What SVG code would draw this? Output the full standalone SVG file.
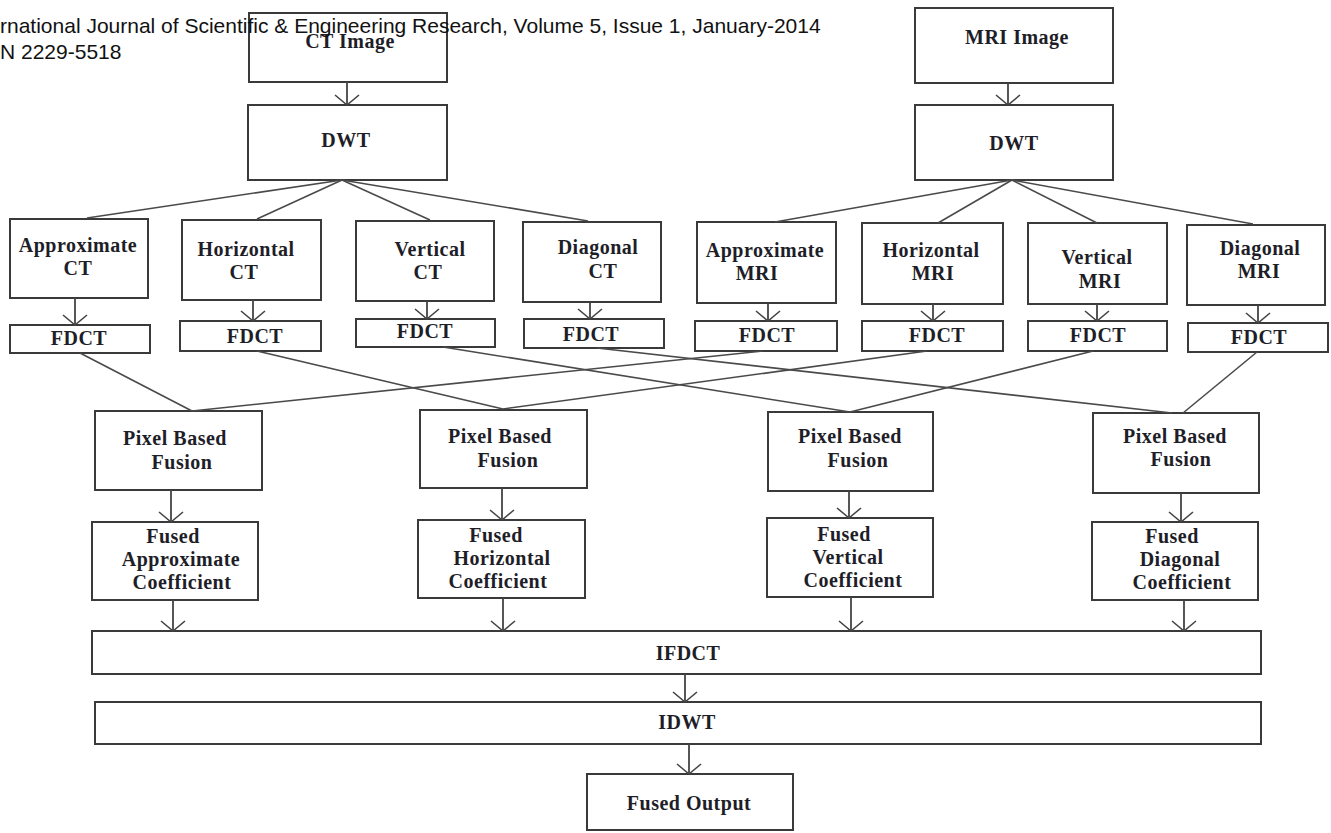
<svg xmlns="http://www.w3.org/2000/svg" width="1331" height="833" viewBox="0 0 1331 833">
<style>
.box{fill:#fff;stroke:#3a3a3a;stroke-width:2}
.lbl{font-family:"Liberation Serif","Times New Roman",serif;font-weight:bold;font-size:20px;letter-spacing:0.5px;fill:#1e1e28;text-anchor:middle}
.hdr{font-family:"Liberation Sans",Arial,sans-serif;font-size:21px;fill:#111}
.con line{stroke:#4a4a4a;stroke-width:1.6;fill:none}
.arr line{stroke:#444;stroke-width:1.8;marker-end:url(#v)}
</style>
<defs>
<marker id="v" markerUnits="userSpaceOnUse" viewBox="-12 -13 14 26" refX="0" refY="0" markerWidth="14" markerHeight="26" orient="auto">
<path d="M-10,-12 L0,0 L-10,12" fill="none" stroke="#444" stroke-width="1.6"/>
</marker>
</defs>
<rect width="1331" height="833" fill="#fff"/>

<g id="ct-image"><rect class="box" x="249" y="13" width="198" height="69"/><text class="lbl" x="350" y="48">CT Image</text></g>
<g id="ct-dwt"><rect class="box" x="248" y="105" width="199" height="75"/><text class="lbl" x="346" y="147">DWT</text></g>
<g id="mri-image"><rect class="box" x="915" y="8" width="198" height="75"/><text class="lbl" x="1017" y="44">MRI Image</text></g>
<g id="mri-dwt"><rect class="box" x="915" y="105" width="198" height="75"/><text class="lbl" x="1014" y="150">DWT</text></g>

<g id="approx-ct"><rect class="box" x="10" y="219" width="138" height="79"/><text class="lbl" x="78" y="252">Approximate</text><text class="lbl" x="78" y="275">CT</text></g>
<g id="horiz-ct"><rect class="box" x="182" y="220" width="139" height="80"/><text class="lbl" x="246" y="256">Horizontal</text><text class="lbl" x="244" y="279">CT</text></g>
<g id="vert-ct"><rect class="box" x="356" y="221" width="138" height="80"/><text class="lbl" x="430" y="256">Vertical</text><text class="lbl" x="428" y="279">CT</text></g>
<g id="diag-ct"><rect class="box" x="523" y="222" width="138" height="80"/><text class="lbl" x="598" y="254">Diagonal</text><text class="lbl" x="603" y="278">CT</text></g>
<g id="approx-mri"><rect class="box" x="697" y="222" width="139" height="81"/><text class="lbl" x="765" y="257">Approximate</text><text class="lbl" x="757" y="280">MRI</text></g>
<g id="horiz-mri"><rect class="box" x="862" y="223" width="141" height="81"/><text class="lbl" x="931" y="257">Horizontal</text><text class="lbl" x="933" y="280">MRI</text></g>
<g id="vert-mri"><rect class="box" x="1028" y="223" width="139" height="81"/><text class="lbl" x="1097" y="264">Vertical</text><text class="lbl" x="1100" y="288">MRI</text></g>
<g id="diag-mri"><rect class="box" x="1187" y="225" width="138" height="80"/><text class="lbl" x="1260" y="255">Diagonal</text><text class="lbl" x="1259" y="278">MRI</text></g>

<g id="fdct-1"><rect class="box" x="10" y="325" width="140" height="28"/><text class="lbl" x="79" y="345">FDCT</text></g>
<g id="fdct-2"><rect class="box" x="180" y="321" width="141" height="30"/><text class="lbl" x="255" y="343">FDCT</text></g>
<g id="fdct-3"><rect class="box" x="356" y="319" width="139" height="28"/><text class="lbl" x="425" y="338">FDCT</text></g>
<g id="fdct-4"><rect class="box" x="524" y="319" width="140" height="29"/><text class="lbl" x="591" y="341">FDCT</text></g>
<g id="fdct-5"><rect class="box" x="695" y="321" width="142" height="30"/><text class="lbl" x="767" y="342">FDCT</text></g>
<g id="fdct-6"><rect class="box" x="862" y="321" width="141" height="30"/><text class="lbl" x="937" y="342">FDCT</text></g>
<g id="fdct-7"><rect class="box" x="1028" y="321" width="139" height="30"/><text class="lbl" x="1098" y="342">FDCT</text></g>
<g id="fdct-8"><rect class="box" x="1188" y="323" width="140" height="29"/><text class="lbl" x="1259" y="344">FDCT</text></g>

<g id="pbf-1"><rect class="box" x="95" y="411" width="167" height="79"/><text class="lbl" x="175" y="445">Pixel Based</text><text class="lbl" x="182" y="469">Fusion</text></g>
<g id="pbf-2"><rect class="box" x="420" y="410" width="167" height="78"/><text class="lbl" x="500" y="443">Pixel Based</text><text class="lbl" x="508" y="467">Fusion</text></g>
<g id="pbf-3"><rect class="box" x="768" y="412" width="165" height="79"/><text class="lbl" x="850" y="443">Pixel Based</text><text class="lbl" x="858" y="467">Fusion</text></g>
<g id="pbf-4"><rect class="box" x="1093" y="413" width="166" height="80"/><text class="lbl" x="1175" y="443">Pixel Based</text><text class="lbl" x="1181" y="466">Fusion</text></g>

<g id="fused-approx"><rect class="box" x="92" y="522" width="166" height="78"/><text class="lbl" x="173" y="543">Fused</text><text class="lbl" x="181" y="566">Approximate</text><text class="lbl" x="182" y="589">Coefficient</text></g>
<g id="fused-horiz"><rect class="box" x="418" y="520" width="167" height="78"/><text class="lbl" x="496" y="542">Fused</text><text class="lbl" x="502" y="565">Horizontal</text><text class="lbl" x="498" y="588">Coefficient</text></g>
<g id="fused-vert"><rect class="box" x="767" y="518" width="166" height="79"/><text class="lbl" x="844" y="541">Fused</text><text class="lbl" x="848" y="564">Vertical</text><text class="lbl" x="853" y="587">Coefficient</text></g>
<g id="fused-diag"><rect class="box" x="1092" y="522" width="166" height="78"/><text class="lbl" x="1172" y="543">Fused</text><text class="lbl" x="1180" y="566">Diagonal</text><text class="lbl" x="1182" y="589">Coefficient</text></g>

<g id="ifdct"><rect class="box" x="92" y="631" width="1169" height="43"/><text class="lbl" x="688" y="660">IFDCT</text></g>
<g id="idwt"><rect class="box" x="95" y="702" width="1166" height="42"/><text class="lbl" x="687" y="729">IDWT</text></g>
<g id="fused-output"><rect class="box" x="587" y="774" width="206" height="56"/><text class="lbl" x="689" y="810">Fused Output</text></g>

<g id="connectors">
<g class="con">
<line x1="342" y1="180" x2="87" y2="218"/>
<line x1="342" y1="180" x2="257" y2="219"/>
<line x1="342" y1="180" x2="430" y2="220"/>
<line x1="342" y1="180" x2="588" y2="221"/>
<line x1="1012" y1="180" x2="775" y2="222"/>
<line x1="1012" y1="180" x2="938" y2="223"/>
<line x1="1012" y1="180" x2="1097" y2="223"/>
<line x1="1012" y1="180" x2="1253" y2="224"/>
<line x1="80" y1="353" x2="192" y2="411"/>
<line x1="763" y1="351" x2="192" y2="411"/>
<line x1="257" y1="351" x2="503" y2="409"/>
<line x1="927" y1="351" x2="503" y2="409"/>
<line x1="443" y1="347" x2="850" y2="412"/>
<line x1="1093" y1="351" x2="850" y2="412"/>
<line x1="597" y1="348" x2="1172" y2="413"/>
<line x1="1257" y1="352" x2="1183" y2="413"/>
</g>
<g class="arr">
<line x1="347" y1="82" x2="347" y2="105"/>
<line x1="1008" y1="83" x2="1008" y2="105"/>
<line x1="75" y1="298" x2="75" y2="325"/>
<line x1="253" y1="300" x2="253" y2="321"/>
<line x1="427" y1="301" x2="427" y2="319"/>
<line x1="590" y1="302" x2="590" y2="319"/>
<line x1="768" y1="303" x2="768" y2="321"/>
<line x1="933" y1="304" x2="933" y2="321"/>
<line x1="1097" y1="304" x2="1097" y2="321"/>
<line x1="1258" y1="305" x2="1258" y2="323"/>
<line x1="171" y1="490" x2="171" y2="522"/>
<line x1="502" y1="488" x2="502" y2="520"/>
<line x1="849" y1="491" x2="849" y2="518"/>
<line x1="1181" y1="493" x2="1181" y2="522"/>
<line x1="173" y1="600" x2="173" y2="631"/>
<line x1="503" y1="598" x2="503" y2="631"/>
<line x1="851" y1="597" x2="851" y2="631"/>
<line x1="1184" y1="600" x2="1184" y2="631"/>
<line x1="685" y1="674" x2="685" y2="702"/>
<line x1="689" y1="744" x2="689" y2="774"/>
</g>
</g>

<g id="header">
<text class="hdr" x="0" y="33">rnational Journal of Scientific &amp; Engineering Research, Volume 5, Issue 1, January-2014</text>
<text class="hdr" x="0" y="59">N 2229-5518</text>
</g>
</svg>
